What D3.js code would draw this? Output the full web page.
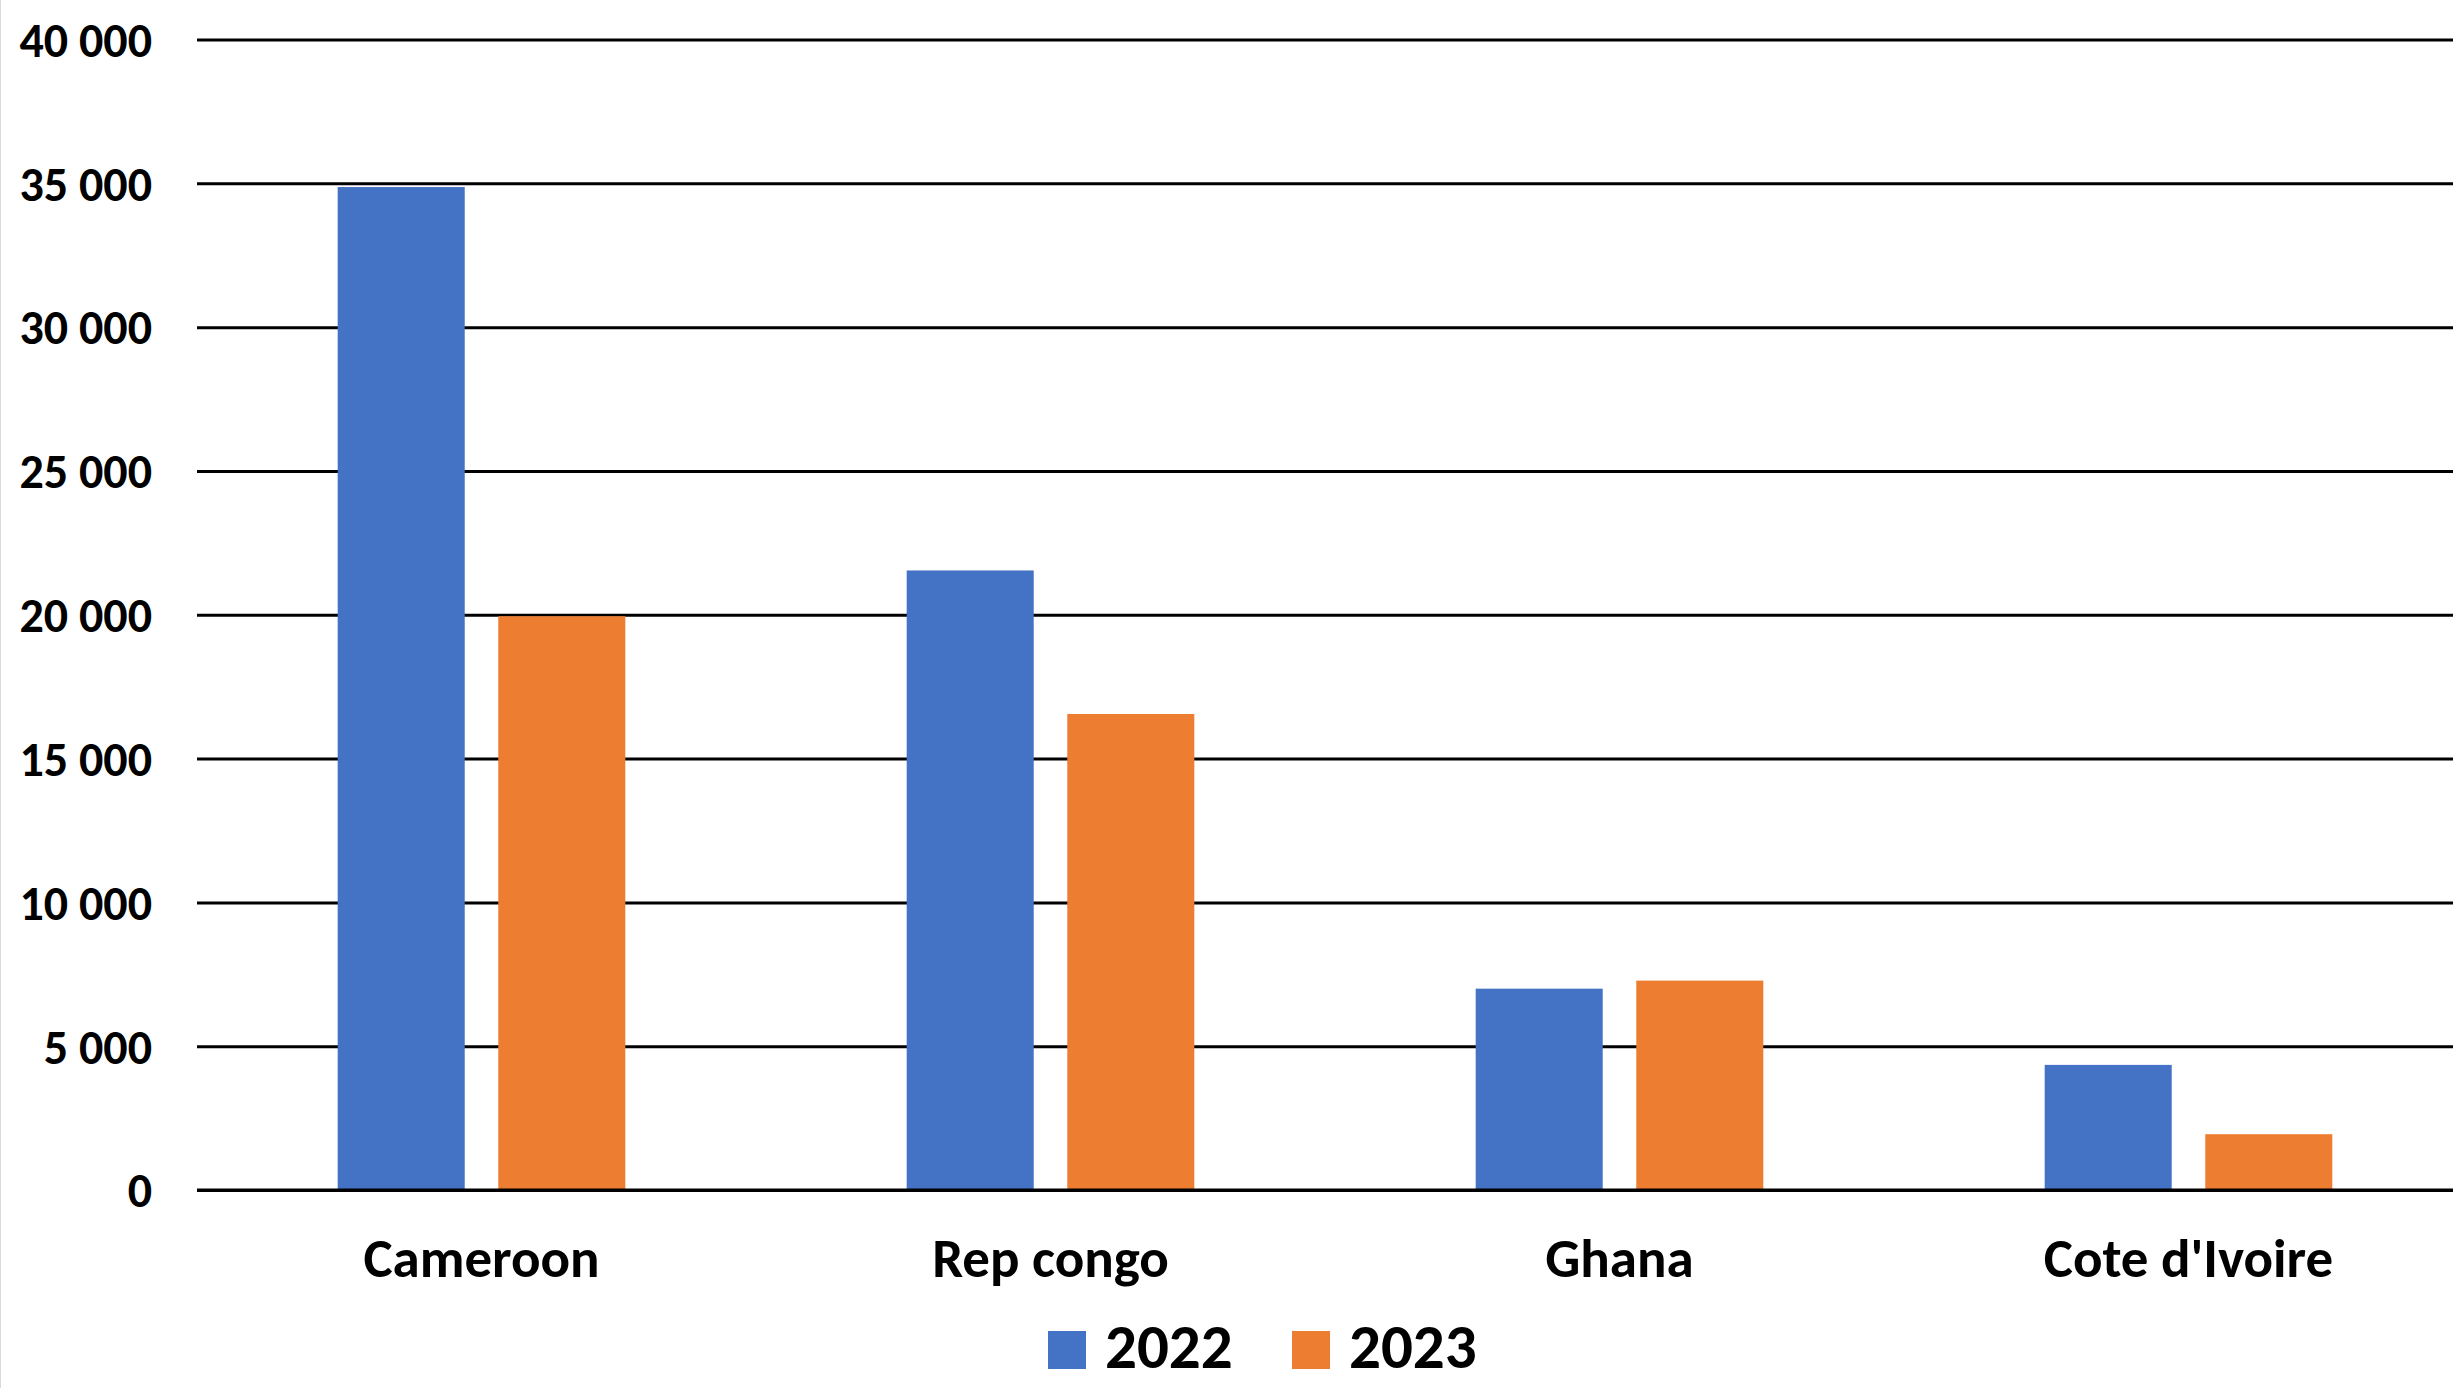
<!DOCTYPE html>
<html><head><meta charset="utf-8">
<script src="https://cdn.jsdelivr.net/npm/d3@7"></script>
<style>
html,body{margin:0;padding:0;background:#fff;}
svg{display:block;}
text{font-family:Carlito,Lato,"Open Sans",sans-serif;font-weight:bold;fill:#000;}
</style></head>
<body>
<script>
const categories = ["Cameroon", "Rep congo", "Ghana", "Cote d'Ivoire"];
const series = ["2022", "2023"];
const values2022 = [34870, 21540, 7000, 4350];
const values2023 = [19950, 16550, 7280, 1940];
const yTicks = [0, 5000, 10000, 15000, 20000, 25000, 30000, 35000, 40000];
const colors = ["#4472C4", "#ED7D31"];

const W = 2453, H = 1388;
const mLeft = 197, mRight = 2473, mTop = 39.5, mBottom = 1190;

const svg = d3.select("body").append("svg").attr("width", W).attr("height", H);
svg.append("rect").attr("width", W).attr("height", H).attr("fill", "#fff");
svg.append("line").attr("x1", 0.5).attr("x2", 0.5).attr("y1", 0).attr("y2", H)
  .attr("stroke", "#d9d9d9").attr("stroke-width", 1);

const x = d3.scaleBand().domain(categories).range([mLeft, mRight]).paddingInner(0).paddingOuter(0);
const xs = d3.scaleBand().domain(series).range([0, x.bandwidth()]).paddingInner(0.209).paddingOuter(0.876);
const y = d3.scaleLinear().domain([0, 40000]).range([mBottom, mTop]);

const loc = d3.formatLocale({decimal: ",", thousands: " ", grouping: [3], currency: ["", ""]});
const fmt = loc.format(",d");

// gridlines
const grid = svg.append("g").attr("transform", `translate(${mLeft},0)`)
  .call(d3.axisLeft(y).tickValues(yTicks).tickSize(-(W - mLeft)).tickFormat(""));
grid.select(".domain").remove();
grid.selectAll(".tick line").attr("stroke", "#000").attr("stroke-width", 3);

// y labels
const yAx = svg.append("g").attr("transform", `translate(152,0)`)
  .call(d3.axisLeft(y).tickValues(yTicks).tickSize(0).tickPadding(0).tickFormat(fmt));
yAx.select(".domain").remove();
yAx.selectAll("text").attr("font-size", 48).attr("font-family", null).attr("dy", "0.35em");

// bars
const data = categories.map((c, i) => ({cat: c, vals: [values2022[i], values2023[i]]}));
const g = svg.append("g");
data.forEach(d => {
  d.vals.forEach((v, j) => {
    g.append("rect")
      .attr("x", x(d.cat) + xs(series[j]))
      .attr("width", xs.bandwidth())
      .attr("y", y(v))
      .attr("height", y(0) - y(v))
      .attr("fill", colors[j]);
  });
});

// zero line on top
svg.append("line").attr("x1", mLeft).attr("x2", W).attr("y1", y(0)).attr("y2", y(0))
  .attr("stroke", "#000").attr("stroke-width", 3);

// x labels
const xAx = svg.append("g").attr("transform", `translate(0,${mBottom})`)
  .call(d3.axisBottom(x).tickSize(0).tickPadding(0));
xAx.select(".domain").remove();
xAx.selectAll("text").attr("font-size", 55).attr("font-family", null).attr("dy", null).attr("y", 87);

// legend
const legend = svg.append("g");
const legX = [1048, 1292];
series.forEach((s, j) => {
  legend.append("rect").attr("x", legX[j]).attr("y", 1331).attr("width", 38).attr("height", 38).attr("fill", colors[j]);
  legend.append("text").attr("x", legX[j] + 57).attr("y", 1368).attr("font-size", 63).text(s);
});
</script>
</body></html>
